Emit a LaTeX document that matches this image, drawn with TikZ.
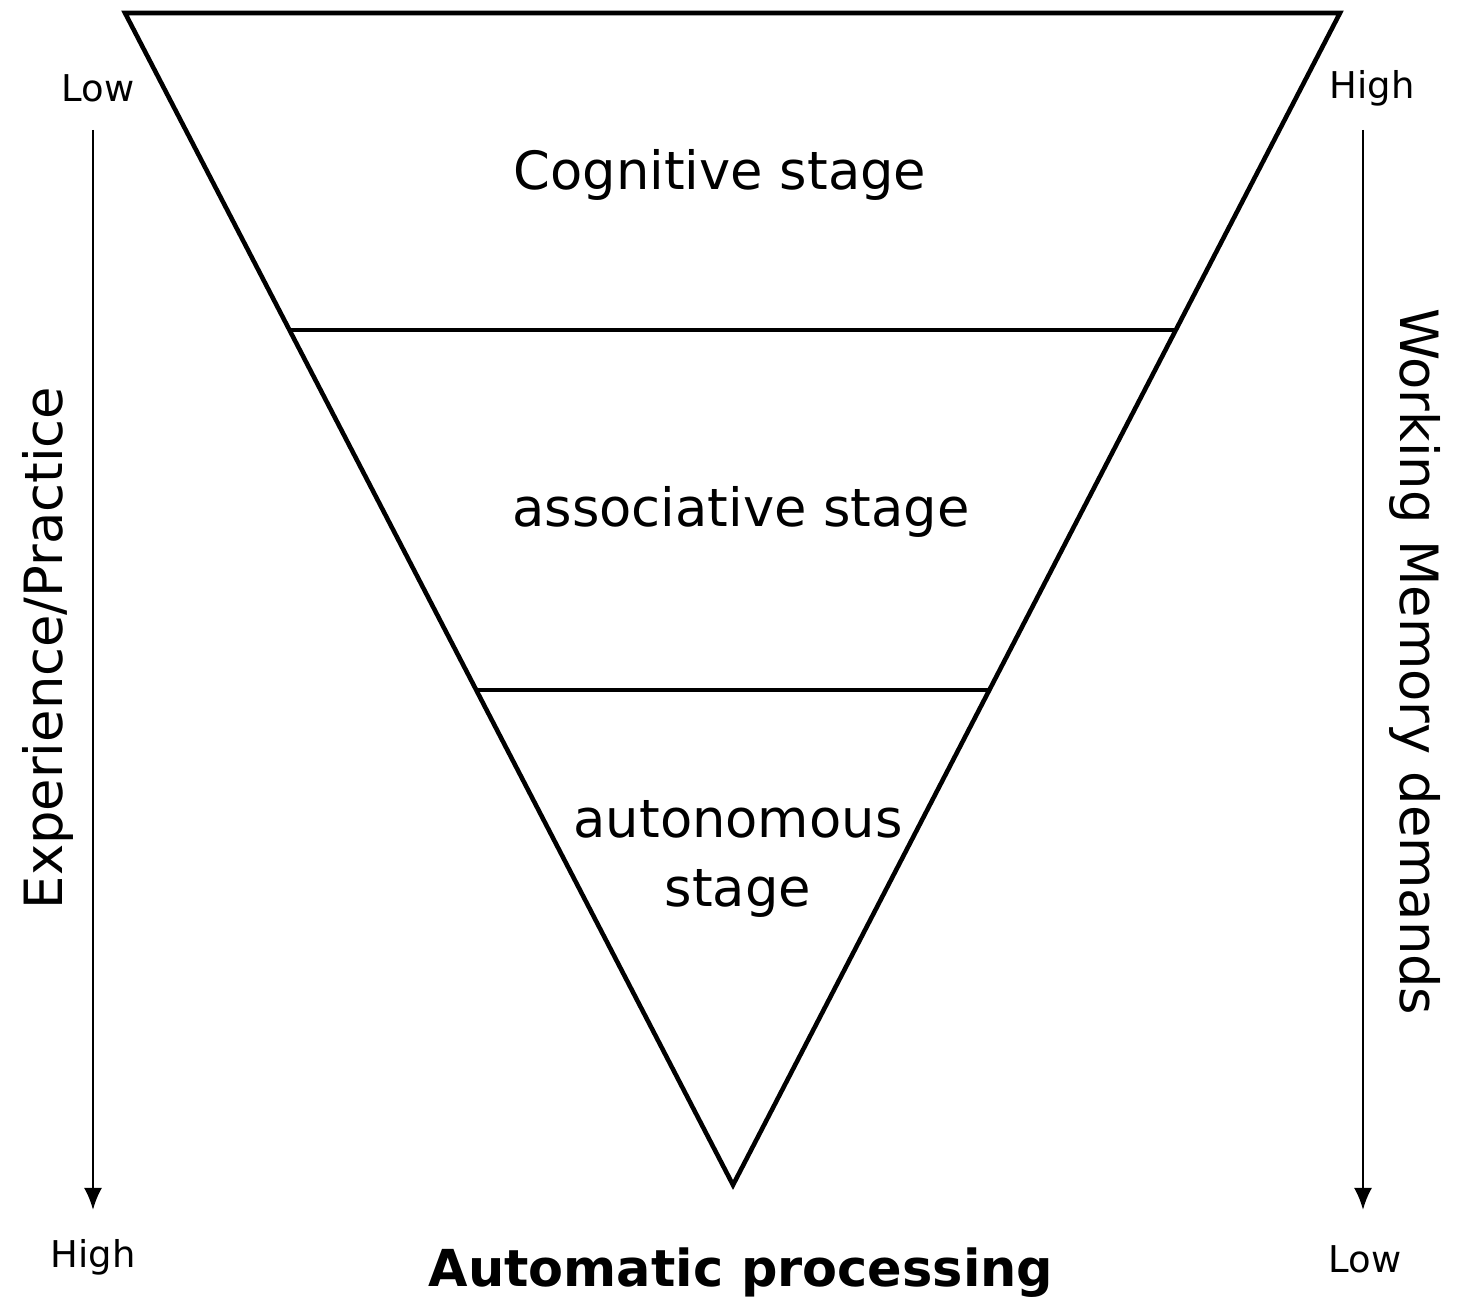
\documentclass[tikz,border=0pt]{standalone}
\usepackage{fontspec}
\setmainfont{DejaVu Sans}
\usetikzlibrary{calc,arrows.meta}

\begin{document}
\begin{tikzpicture}[
  stagetext/.style={font=\fontsize{15}{19.5}\selectfont, align=center},
  endtext/.style={font=\fontsize{10.5}{12}\selectfont},
  axisarrow/.style={line width=0.7pt, -{Latex[length=2.2mm,width=1.8mm]}}]
  \useasboundingbox (0,0) rectangle (14.57,13.03);
  \coordinate (A) at (1.25,12.90);
  \coordinate (B) at (13.40,12.90);
  \coordinate (C) at (7.33,1.18);
  \coordinate (P) at ($(A)!0.2705!(C)$);
  \coordinate (Q) at ($(B)!0.2705!(C)$);
  \coordinate (R) at ($(A)!0.5776!(C)$);
  \coordinate (S) at ($(B)!0.5776!(C)$);
  \draw[line width=1.3pt, line join=miter] (A)--(B)--(C)--cycle;
  \draw[line width=1.3pt] (P)--(Q);
  \draw[line width=1.3pt] (R)--(S);
  % Stufen
  \node[stagetext] (cog) at (7.20,11.28) {Cognitive stage};
  \node[stagetext] (assoc) at (7.41,7.91) {associative stage};
  \node[stagetext] (auto) at (7.38,4.44) {autonomous\\stage};
  % Achsen
  \coordinate (L1) at (0.93,11.73);
  \coordinate (L2) at (0.93,0.93);
  \coordinate (R1) at (13.63,11.73);
  \coordinate (R2) at (13.63,0.93);
  \draw[axisarrow] (L1)--(L2);
  \draw[axisarrow] (R1)--(R2);
  \node[stagetext, rotate=90] (exp) at (0.48,6.55) {Experience/Practice};
  \node[stagetext, rotate=-90] (wm) at (14.15,6.41) {Working Memory demands};
  \node[endtext] (lowL) at (0.98,12.15) {Low};
  \node[endtext] (highR) at (13.72,12.15) {High};
  \node[endtext] (highL) at (0.93,0.46) {High};
  \node[endtext] (lowR) at (13.65,0.44) {Low};
  \node[font=\fontsize{14.5}{17}\selectfont\bfseries] (ap) at (7.41,0.30) {Automatic processing};
\end{tikzpicture}
\end{document}
